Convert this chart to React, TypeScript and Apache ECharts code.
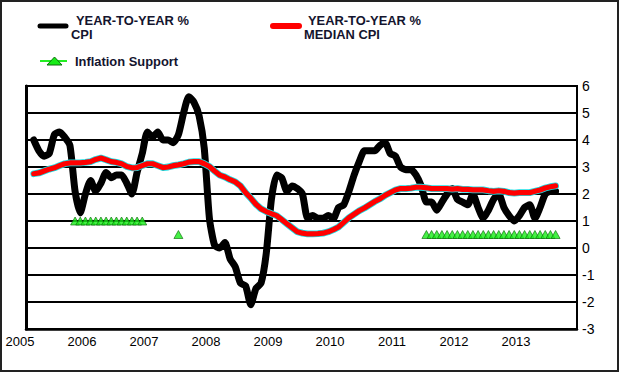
import React, { useEffect, useRef } from "react";
import * as echarts from "echarts";

// Tick labels of the x axis (one per year band)
const yearLabels = ["2005", "2006", "2007", "2008", "2009", "2010", "2011", "2012", "2013"];
const xAxisMaxYears = 8.887; // axis span, in year bands
const monthOffset = 1.5; // first observation sits 1.5 months into the first band

// Year-to-year % CPI, monthly
const cpi = [
  4.0, 3.6, 3.4, 3.5, 4.2, 4.3, 4.1, 3.8, 2.1, 1.3, 2.0, 2.5,
  2.1, 2.4, 2.8, 2.6, 2.7, 2.7, 2.4, 2.0, 2.8, 3.5, 4.3, 4.1,
  4.3, 4.0, 4.0, 3.9, 4.2, 5.0, 5.6, 5.4, 4.9, 3.7, 1.1, 0.1,
  0.0, 0.2, -0.4, -0.7, -1.3, -1.4, -2.1, -1.5, -1.3, -0.2, 1.8, 2.7,
  2.6, 2.1, 2.3, 2.2, 2.0, 1.1, 1.2, 1.1, 1.1, 1.2, 1.1, 1.5,
  1.6, 2.1, 2.7, 3.2, 3.6, 3.6, 3.6, 3.8, 3.9, 3.5, 3.4, 3.0,
  2.9, 2.9, 2.7, 2.3, 1.7, 1.7, 1.4, 1.7, 2.0, 2.2, 1.8, 1.7,
  1.6, 2.0, 1.5, 1.1, 1.4, 1.8, 2.0, 1.5, 1.2, 1.0, 1.2, 1.5,
  1.6, 1.1, 1.5, 2.0, 2.1, 2.1,
];

// Year-to-year % Median CPI, monthly
const medianCpi = [
  2.75, 2.78, 2.85, 2.92, 2.97, 3.05, 3.12, 3.15, 3.15, 3.15, 3.17, 3.2,
  3.28, 3.33, 3.27, 3.2, 3.17, 3.12, 3.02, 2.97, 2.98, 3.05, 3.12, 3.12,
  3.05, 2.98, 3.0, 3.05, 3.08, 3.12, 3.18, 3.2, 3.2, 3.12, 3.02, 2.85,
  2.7, 2.63, 2.53, 2.45, 2.3, 2.05, 1.85, 1.62, 1.45, 1.35, 1.27, 1.2,
  1.05, 0.9, 0.75, 0.6, 0.55, 0.52, 0.52, 0.53, 0.55, 0.6, 0.68, 0.78,
  0.95, 1.12, 1.25, 1.38, 1.48, 1.6, 1.72, 1.82, 1.95, 2.05, 2.15, 2.2,
  2.2, 2.22, 2.25, 2.25, 2.23, 2.2, 2.2, 2.2, 2.2, 2.18, 2.2, 2.17,
  2.17, 2.15, 2.15, 2.15, 2.12, 2.1, 2.12, 2.1, 2.05, 2.03, 2.05, 2.05,
  2.05, 2.1, 2.15, 2.22, 2.27, 2.3,
];

// Inflation support markers: month index and level
const supportMonths = [
  8, 9, 10, 11, 12, 13, 14, 15, 16, 17, 18, 19, 20, 21,
  28,
  76, 77, 78, 79, 80, 81, 82, 83, 84, 85, 86, 87, 88, 89, 90, 91, 92, 93, 94, 95, 96, 97, 98, 99, 100, 101,
];
const supportLevels = [
  1, 1, 1, 1, 1, 1, 1, 1, 1, 1, 1, 1, 1, 1,
  0.5,
  0.5, 0.5, 0.5, 0.5, 0.5, 0.5, 0.5, 0.5, 0.5, 0.5, 0.5, 0.5, 0.5, 0.5, 0.5, 0.5, 0.5, 0.5, 0.5, 0.5, 0.5, 0.5, 0.5, 0.5, 0.5, 0.5,
];

const yMin = -3;
const yMax = 6;

const toX = (m: number) => (m + monthOffset) / 12;

export default function App() {
  const ref = useRef<HTMLDivElement>(null);

  useEffect(() => {
    document.body.style.margin = "0";
    if (!ref.current) return;
    const chart = echarts.init(ref.current, null, { renderer: "svg" });
    const font = "'Liberation Sans', Arial, sans-serif";
    const textColor = "#14142e";

    const cpiData = cpi.map((v, i) => [toX(i), v]);
    const medData = medianCpi.map((v, i) => [toX(i), v]);
    const supData = supportMonths.map((m, i) => [toX(m), supportLevels[i]]);

    const legendText = (text: string, x: number, y: number) => ({
      type: "text",
      x,
      y,
      style: {
        text,
        fill: textColor,
        fontSize: 12.9,
        fontWeight: "bold",
        fontFamily: font,
        verticalAlign: "middle",
        align: "left",
      },
    });

    chart.setOption({
      animation: false,
      backgroundColor: "#ffffff",
      grid: {
        left: 26,
        top: 86,
        width: 551,
        height: 243,
        show: true,
        borderColor: "#000",
        borderWidth: 2,
        backgroundColor: "transparent",
      },
      xAxis: {
        type: "value",
        min: 0,
        max: xAxisMaxYears,
        interval: 1,
        axisLine: { show: true, onZero: false, lineStyle: { color: "#000", width: 2.5 } },
        axisTick: { show: false },
        splitLine: { show: false },
        axisLabel: {
          showMaxLabel: false,
          showMinLabel: true,
          formatter: (v: number) => {
            const r = Math.round(v);
            return Math.abs(v - r) < 1e-6 && yearLabels[r] ? yearLabels[r] : "";
          },
          color: "#000",
          fontSize: 13,
          fontFamily: font,
          margin: 6,
          padding: [0, 12, 0, 0],
        },
      },
      yAxis: {
        type: "value",
        position: "right",
        min: yMin,
        max: yMax,
        interval: 1,
        axisLine: { show: true, lineStyle: { color: "#000", width: 3 } },
        axisTick: { show: false },
        splitLine: { show: true, lineStyle: { color: "#000", width: 2 } },
        axisLabel: {
          color: "#000",
          fontSize: 14,
          fontFamily: font,
          margin: 5,
        },
      },
      series: [
        {
          name: "YEAR-TO-YEAR % CPI",
          type: "line",
          data: cpiData,
          symbol: "none",
          smooth: 0.2,
          lineStyle: { color: "#000", width: 7, cap: "round", join: "round" },
          z: 2,
        },
        {
          name: "halo",
          type: "line",
          data: medData,
          symbol: "none",
          lineStyle: { color: "#19e0e6", width: 6.8, cap: "round", join: "round" },
          z: 3,
        },
        {
          name: "YEAR-TO-YEAR % MEDIAN CPI",
          type: "line",
          data: medData,
          symbol: "none",
          lineStyle: { color: "#ff0000", width: 5.2, cap: "round", join: "round" },
          z: 4,
        },
        {
          name: "Inflation Support",
          type: "scatter",
          data: supData,
          symbol: "triangle",
          symbolSize: [9, 8],
          itemStyle: { color: "#16ec16", borderColor: "#0b6b0b", borderWidth: 0.8 },
          z: 5,
        },
      ],
      graphic: [
        {
          type: "rect",
          shape: { x: 1, y: 1, width: 617, height: 370 },
          style: { fill: "none", stroke: "#222", lineWidth: 2 },
          z: 100,
        },
        {
          type: "line",
          shape: { x1: 40, y1: 26, x2: 66, y2: 26 },
          style: { stroke: "#000", lineWidth: 5, lineCap: "round" },
        },
        legendText("YEAR-TO-YEAR %", 76, 20),
        legendText("CPI", 71, 34),
        {
          type: "line",
          shape: { x1: 273, y1: 26, x2: 299, y2: 26 },
          style: { stroke: "#ff0000", lineWidth: 6, lineCap: "round" },
        },
        legendText("YEAR-TO-YEAR %", 308, 20),
        legendText("MEDIAN CPI", 304, 34),
        {
          type: "line",
          shape: { x1: 40, y1: 61, x2: 67, y2: 61 },
          style: { stroke: "#22ee22", lineWidth: 2 },
        },
        {
          type: "polygon",
          shape: { points: [[47, 65], [62, 65], [54.5, 57]] },
          style: { fill: "#16ec16", stroke: "#0b6b0b", lineWidth: 1 },
        },
        legendText("Inflation Support", 75, 61),
      ],
    });

    return () => chart.dispose();
  }, []);

  return <div ref={ref} style={{ width: 620, height: 373 }} />;
}
